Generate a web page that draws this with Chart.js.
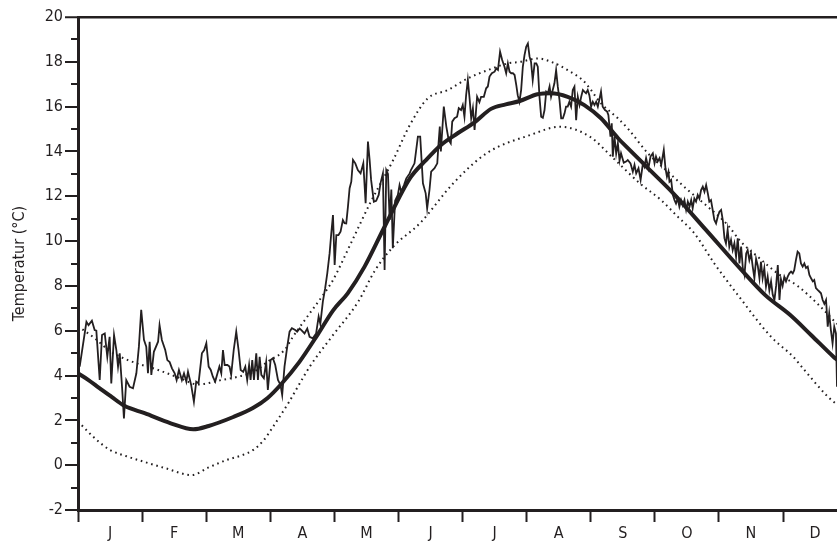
<!DOCTYPE html>
<html>
<head>
<meta charset="utf-8">
<script src="https://cdn.jsdelivr.net/npm/chart.js@4.4.1/dist/chart.umd.min.js"></script>
<style>
  html, body { margin: 0; padding: 0; background: #fff; }
  #wrap { width: 837px; height: 544px; position: relative; }
</style>
</head>
<body>
<div id="wrap"><canvas id="c"></canvas></div>
<script>
// daily temperature vs. long-term mean and band, one year (days 0..365, 12 equal months)

const INK = '#231f20';
const FONT = "'Liberation Sans Narrow', 'DejaVu Sans Condensed', 'Arial Narrow', sans-serif";

const monthLabels = ['J', 'F', 'M', 'A', 'M', 'J', 'J', 'A', 'S', 'O', 'N', 'D'];
const yearDays = 365;
const visibleDays = 360.2;   // the picture is cut off a few days before year end

const meanDays  = [0, 5, 10, 15.8, 22, 31.6, 44, 54.7, 62, 73.7, 83, 90, 96.3, 105, 113.9, 121, 128, 136, 145.5, 157.5, 165, 172.4, 180, 188.2, 196, 203, 209.7, 218, 224.5, 232.4, 240.3, 248.2, 256.2, 262, 270, 282.5, 298, 314, 326, 338, 348, 358.5, 360.2];
const meanTemps = [4.1, 3.8, 3.45, 3.06, 2.65, 2.32, 1.87, 1.6, 1.75, 2.15, 2.55, 3.0, 3.6, 4.6, 5.85, 6.9, 7.67, 8.86, 10.64, 12.8, 13.6, 14.3, 14.8, 15.3, 15.9, 16.1, 16.25, 16.55, 16.6, 16.44, 16.07, 15.48, 14.6, 14.05, 13.3, 12.13, 10.5, 8.8, 7.6, 6.7, 5.8, 4.84, 4.7];

const upperDays  = [0, 8, 15, 23.7, 38, 48, 57, 68, 76, 84, 90, 98, 102, 110, 118, 121, 130, 138.6, 149.6, 157.6, 166, 175.5, 185, 194.5, 204, 210, 218.2, 224.5, 232.4, 240.3, 248.2, 256.2, 261.5, 270.4, 279.9, 289.4, 298.9, 308.3, 314.3, 322.6, 332, 341.5, 351, 360.2];
const upperTemps = [6.2, 5.66, 5.1, 4.69, 4.25, 3.9, 3.6, 3.8, 3.95, 4.2, 4.62, 5.14, 5.73, 6.78, 7.82, 8.26, 10.0, 11.69, 13.62, 15.2, 16.37, 16.74, 17.26, 17.63, 17.93, 18.0, 18.15, 18.0, 17.63, 17.11, 16.15, 15.48, 14.96, 13.92, 13.1, 12.28, 11.53, 10.72, 10.0, 9.3, 8.56, 8.0, 7.2, 6.3];

const lowerDays  = [0, 8, 15.2, 23, 31, 42, 53.9, 62, 70.5, 78, 83.2, 88, 92.6, 100, 110, 120, 133, 141, 149.6, 162.3, 178.1, 193.9, 214.5, 228.7, 242.9, 254, 266.6, 276.7, 284.6, 292.5, 302, 313.1, 328.9, 339.4, 344.7, 355.8, 360.2];
const lowerTemps = [1.95, 1.2, 0.68, 0.4, 0.16, -0.15, -0.44, -0.1, 0.23, 0.45, 0.68, 1.1, 1.72, 2.8, 4.4, 5.68, 7.3, 8.7, 9.75, 10.8, 12.58, 13.92, 14.73, 15.1, 14.66, 13.7, 12.58, 11.83, 11.09, 10.35, 9.0, 7.6, 5.73, 4.84, 4.25, 3.06, 2.7];

const dailyDays = [
  0.8, 4, 5, 6.6, 7.9, 8.7, 10.3, 11.4, 12.7, 13.9, 15, 15.8, 17.1, 18.2, 19, 19.8, 20.9, 21.8, 22.9, 24.5,
  26.1, 27.7, 28.9, 30, 31.3, 32.4, 33.2, 34, 34.8, 36, 38, 38.7, 39.8, 41.4, 42.4, 43.5, 44.6, 45.9, 46.8, 47.9,
  49.3, 50.3, 51.4, 52.2, 53.7, 55, 56.1, 57.2, 58.8, 59.9, 60.9, 62, 63, 64, 65.1, 66.4, 67.1, 68, 68.8, 69.6,
  70.9, 71.9, 72.7, 73.9, 75.1, 76.2, 77.2, 78.4, 79.4, 80.3, 81.2, 81.9, 82.7, 83.5, 84.6, 85.4, 86.2, 87, 88.2, 89.3,
  90.1, 91.4, 92.5, 93.6, 94.9, 96.1, 96.9, 98, 99.3, 100.4, 101.5, 103.1, 104, 105.2, 106, 107.5, 108.8, 109.9, 111.4, 113,
  114.2, 115, 116.2, 117.3, 118.3, 119.4, 120.2, 121, 121.8, 122.6, 123.6, 124.6, 125.7, 126.5, 127.3, 128.1, 128.9, 129.7, 130.5, 131.6,
  132.8, 134.1, 135.4, 136.5, 137.6, 138.4, 139.1, 140.4, 141.5, 142.7, 143.6, 144.7, 145.5, 146.3, 147.1, 147.9, 148.7, 149.4, 150.5, 151.8,
  152.6, 153.4, 154.7, 155.8, 157.4, 158, 159.7, 161.3, 162.4, 163.7, 165, 165.7, 166.8, 167.6, 169.2, 170.5, 171.1, 171.7, 172.2, 173.6,
  174.8, 175.9, 176.9, 177.6, 178.7, 179.9, 180.7, 181.8, 182.6, 183.4, 184.2, 185, 185.8, 186.6, 187.4, 188.2, 189.4, 190.5, 191.3, 192.6,
  193.7, 194.5, 195.3, 196.4, 197.7, 198.5, 199.3, 200.3, 201.3, 202.4, 203.2, 204, 204.8, 205.6, 206.4, 207.2, 208, 208.7, 209.5, 210.3,
  211.1, 211.9, 212.7, 213.5, 214.3, 215, 215.8, 216.7, 217.5, 218.2, 219, 219.8, 220.6, 221.4, 222.2, 223, 223.8, 224.5, 225.3, 226.1,
  226.9, 227.7, 228.5, 229.3, 230.1, 230.9, 231.6, 232.4, 233.2, 234, 234.8, 235.6, 236.4, 237.2, 238, 238.8, 239.6, 240.3, 241.1, 241.9,
  242.7, 243.5, 244.3, 245.1, 245.9, 246.7, 247.4, 248.2, 249, 250.1, 251.1, 251.7, 252.7, 253.3, 253.8, 254.6, 255.4, 256.2, 257, 257.7,
  259, 260.1, 260.9, 262.2, 263.3, 264.1, 264.9, 266, 267, 268.1, 268.8, 269.6, 270.7, 271.7, 272.8, 273.6, 274.3, 275.1, 276, 276.8,
  278, 278.8, 279.5, 280.2, 280.7, 281.5, 282.3, 283.1, 283.8, 284.6, 285.4, 286.2, 287, 287.8, 288.6, 289.4, 290.2, 291, 291.7, 292.5,
  293.3, 294.1, 294.9, 295.7, 296.5, 297.3, 298.1, 298.9, 299.6, 300.4, 301.2, 302, 302.8, 303.6, 304.4, 305.2, 306, 306.8, 307.5, 308.3,
  309.1, 309.9, 310.7, 311.5, 312.3, 313.1, 313.9, 314.7, 315.5, 316.3, 317.1, 317.8, 318.6, 319.4, 320.2, 321, 321.8, 322.6, 323.4, 324.1,
  324.9, 325.7, 326.5, 327.3, 328.1, 328.9, 329.7, 330.5, 331.3, 332.1, 332.9, 333.6, 334.4, 335.2, 336, 336.8, 337.6, 338.4, 339.2, 339.9,
  340.7, 341.5, 342.3, 343.1, 343.9, 344.7, 345.5, 346.3, 347.1, 347.9, 348.7, 349.4, 350.2, 351, 351.8, 352.6, 353.4, 354.2, 355, 355.8,
  356.5, 357.3, 358.1, 358.9, 359.7, 360.2
];
const dailyTemps = [
  4.4, 6.4, 6.25, 6.45, 6.03, 6.0, 3.8, 5.81, 5.88, 4.84, 5.73, 3.65, 5.81, 5.14, 4.4, 4.99, 3.5, 2.09, 3.8, 3.5,
  3.43, 4.1, 5.29, 6.93, 5.59, 5.29, 4.1, 5.51, 4.03, 5.06, 5.51, 6.25, 5.59, 5.14, 4.69, 4.6, 4.32, 4.1, 3.8, 4.25,
  3.8, 4.1, 3.73, 4.17, 3.58, 2.83, 3.73, 3.65, 4.99, 5.14, 5.44, 4.4, 4.25, 3.95, 3.73, 4.17, 4.4, 4.1, 5.14, 4.47,
  4.47, 4.4, 4.03, 5.14, 5.96, 5.14, 4.25, 4.17, 4.4, 3.8, 4.47, 3.8, 4.69, 3.8, 4.99, 3.8, 4.84, 4.03, 3.88, 4.6,
  3.36, 4.69, 4.77, 4.47, 3.8, 3.58, 3.13, 4.4, 5.29, 5.96, 6.11, 6.03, 5.96, 6.1, 6.03, 5.88, 6.1, 5.73, 5.66, 5.88,
  6.63, 6.3, 7.3, 7.9, 8.56, 9.45, 10.35, 11.16, 8.93, 10.27, 10.27, 10.42, 10.94, 10.8, 10.79, 11.53, 12.36, 12.65, 13.62, 13.47,
  13.17, 13.02, 13.47, 11.69, 14.44, 13.62, 12.73, 11.76, 11.8, 12.06, 12.6, 13.02, 8.71, 13.17, 13.0, 10.94, 12.3, 9.68, 11.8, 12.06,
  12.5, 12.2, 12.5, 12.8, 13.02, 13.17, 13.47, 14.66, 14.66, 12.58, 12.13, 11.46, 12.28, 13.1, 13.25, 13.47, 14.36, 15.11, 14.0, 16.0,
  15.11, 14.51, 14.36, 15.33, 15.48, 15.55, 15.93, 15.85, 16.07, 15.55, 16.52, 17.19, 16.4, 15.48, 15.93, 14.96, 16.44, 16.2, 16.44, 16.44,
  16.82, 16.9, 17.34, 17.49, 17.56, 17.71, 17.64, 18.45, 18.08, 17.78, 17.49, 17.93, 17.56, 17.49, 17.49, 17.41, 16.96, 16.5, 16.22, 16.74,
  17.78, 18.3, 18.67, 18.82, 18.23, 18.0, 17.19, 17.93, 17.93, 17.78, 16.44, 15.55, 15.5, 15.85, 16.67, 16.6, 16.9, 16.44, 16.74, 17.04,
  17.63, 16.89, 16.3, 15.48, 15.48, 15.7, 16.0, 16.0, 16.22, 16.0, 16.74, 16.89, 15.4, 16.44, 16.07, 16.44, 16.74, 16.67, 16.6, 16.74,
  16.5, 16.0, 16.22, 16.07, 16.22, 16.0, 16.3, 16.67, 16.0, 15.85, 15.78, 15.63, 14.66, 15.26, 13.77, 14.66, 13.9, 14.36, 13.6, 13.92,
  13.5, 13.55, 13.62, 13.47, 13.1, 13.4, 13.02, 13.25, 12.73, 13.47, 13.32, 13.7, 13.25, 13.77, 13.92, 13.47, 13.77, 13.55, 13.7, 13.4,
  14.07, 13.25, 12.87, 13.1, 12.65, 12.73, 12.06, 11.83, 11.68, 11.9, 11.53, 11.83, 11.6, 11.83, 11.39, 11.76, 11.53, 11.83, 11.46, 11.9,
  11.76, 12.06, 11.9, 12.28, 12.43, 12.2, 12.5, 12.13, 11.76, 11.83, 11.39, 10.94, 10.79, 11.09, 11.31, 11.39, 10.94, 10.12, 9.9, 10.5,
  9.75, 10.05, 9.6, 9.9, 9.3, 10.12, 9.0, 9.75, 8.8, 8.49, 9.45, 9.6, 9.15, 9.45, 8.86, 8.34, 9.2, 8.9, 8.34, 9.08,
  8.34, 8.79, 7.97, 8.41, 7.8, 8.2, 7.6, 7.37, 8.0, 8.93, 7.37, 8.3, 8.0, 8.4, 8.2, 8.41, 8.56, 8.64, 8.56, 8.7,
  9.15, 9.53, 9.45, 9.0, 8.86, 9.0, 8.8, 8.86, 8.49, 8.34, 8.2, 8.26, 7.9, 7.82, 7.75, 7.67, 7.37, 7.2, 7.37, 6.18,
  6.78, 6.03, 5.44, 6.18, 5.88, 3.5
];

const pts = (xs, ys) => xs.map((x, i) => ({ x, y: ys[i] }));
const monthLen = yearDays / 12;

const minorTicks = {
  id: 'minorTicks',
  afterDraw(chart) {
    const y = chart.scales.y, ctx = chart.ctx;
    ctx.save();
    ctx.strokeStyle = INK;
    ctx.lineWidth = 2;
    for (const t of y.ticks) {
      if (Math.abs(t.value % 2) !== 1) continue;
      const py = Math.round(y.getPixelForValue(t.value));
      ctx.beginPath();
      ctx.moveTo(y.right - 7, py);
      ctx.lineTo(y.right, py);
      ctx.stroke();
    }
    ctx.restore();
  }
};

new Chart(document.getElementById('c'), {
  type: 'line',
  data: {
    datasets: [
      { label: 'daily', data: pts(dailyDays, dailyTemps), borderColor: INK, borderWidth: 1.8, tension: 0, pointRadius: 0 },
      { label: 'mean', data: pts(meanDays, meanTemps), borderColor: INK, borderWidth: 4, cubicInterpolationMode: 'monotone', pointRadius: 0 },
      { label: 'upper', data: pts(upperDays, upperTemps), borderColor: INK, borderWidth: 2, borderDash: [1.6, 3.8], cubicInterpolationMode: 'monotone', pointRadius: 0 },
      { label: 'lower', data: pts(lowerDays, lowerTemps), borderColor: INK, borderWidth: 2, borderDash: [1.6, 3.8], cubicInterpolationMode: 'monotone', pointRadius: 0 },
    ]
  },
  options: {
    responsive: true,
    maintainAspectRatio: false,
    animation: false,
    parsing: true,
    layout: { padding: { top: 17, right: 0, left: 0, bottom: 0 } },
    plugins: { legend: { display: false }, tooltip: { enabled: false } },
    scales: {
      x: {
        type: 'linear',
        min: 0,
        max: visibleDays,
        afterBuildTicks(axis) {
          const t = [];
          for (let i = 0; i < 12; i++) { t.push({ value: i * monthLen }); t.push({ value: (i + 0.5) * monthLen }); }
          axis.ticks = t;
        },
        afterFit(scale) { scale.height = 34; },
        border: { color: INK, width: 3 },
        grid: {
          drawOnChartArea: false,
          tickLength: 12,
          tickWidth: 2,
          tickColor: (ctx) => (ctx.index % 2 === 0 ? INK : 'rgba(0,0,0,0)'),
        },
        ticks: {
          autoSkip: false,
          maxRotation: 0,
          padding: 2,
          color: INK,
          font: { family: FONT, size: 16 },
          callback: (v, i) => (i % 2 === 1 ? monthLabels[(i - 1) / 2] : ''),
        },
      },
      y: {
        min: -2,
        max: 20,
        afterFit(scale) { scale.width = 78; },
        border: { color: INK, width: 3 },
        grid: {
          color: (ctx) => (ctx.tick && ctx.tick.value === 20 ? INK : 'rgba(0,0,0,0)'),
          lineWidth: (ctx) => (ctx.tick && ctx.tick.value === 20 ? 2.5 : 0),
          tickLength: 13,
          tickWidth: 2,
          tickColor: (ctx) => (ctx.tick && Math.abs(ctx.tick.value % 2) === 1 ? 'rgba(0,0,0,0)' : INK),
        },
        ticks: {
          stepSize: 1,
          autoSkip: false,
          padding: 2,
          color: INK,
          font: { family: FONT, size: 16 },
          callback: (v) => (Math.abs(v % 2) === 1 ? '' : String(v)),
        },
        title: {
          display: true,
          text: 'Temperatur (°C)',
          color: INK,
          font: { family: FONT, size: 16 },
          padding: { top: 10, bottom: 0 },
        },
      },
    },
  },
  plugins: [minorTicks],
});
</script>
</body>
</html>
